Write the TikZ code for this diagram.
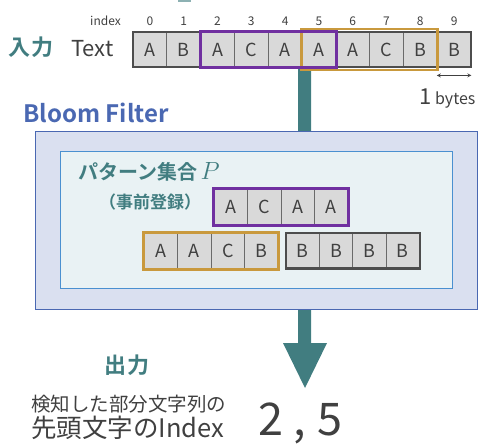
\documentclass[tikz,border=0pt]{standalone}
\usepackage{fontspec}
\setmainfont{Noto Sans CJK JP}
\newfontfamily\jpbold{Noto Sans CJK JP Bold}
\definecolor{tealc}{HTML}{417D80}
\definecolor{purp}{HTML}{7030A0}
\definecolor{gold}{HTML}{C9993D}
\definecolor{bfblue}{HTML}{4A68B2}
\definecolor{bffill}{HTML}{DAE0F0}
\definecolor{inblue}{HTML}{4A90D0}
\definecolor{infill}{HTML}{E9F2F4}
\definecolor{cellg}{HTML}{D9D9D9}
\definecolor{celll}{HTML}{6A6A6A}
\definecolor{dgray}{HTML}{4D4D4D}
\definecolor{txt}{HTML}{404040}
\begin{document}
\begin{tikzpicture}[x=1pt,y=-1pt,
  cellbox/.style={draw=celll,fill=cellg,line width=0.8pt,inner sep=0pt,
    minimum height=35pt,text=txt,font=\fontsize{18}{18}\selectfont},
  idx/.style={text=txt,font=\fontsize{12}{12}\selectfont,inner sep=0pt},
  tealtext/.style={text=tealc,font=\jpbold\fontsize{22}{22}\selectfont,inner sep=0pt}]
\useasboundingbox (0,0) rectangle (481,445);
% small clipped fragment at top
\fill[tealc!60] (178,0) rectangle (191,2);
% main arrow (behind everything)
\coordinate (astart) at (304.5,66);
\coordinate (atip) at (305,388);
\fill[tealc] (astart) ++(-6.5,0) -- ++(13,0) |- (327,343) -- (atip) -- (283,343) -| (298,66) -- cycle;
% Bloom filter box
\node[anchor=west,text=bfblue,font=\jpbold\fontsize{24}{24}\selectfont,inner sep=0pt] (bflabel) at (23,113) {Bloom Filter};
\node[draw=bfblue,fill=bffill,line width=1.3pt,minimum width=442pt,minimum height=178pt,anchor=north west,inner sep=0pt] (bf) at (35,131) {};
\node[draw=inblue,fill=infill,line width=0.8pt,minimum width=392pt,minimum height=137pt,anchor=north west,inner sep=0pt] (inner) at (60,151) {};
\node[anchor=west,inner sep=0pt] (pset) at (78,172) {\jpbold\color{tealc}\fontsize{20}{20}\selectfont パターン集合\,\fontsize{25}{25}\selectfont$P$};
\node[anchor=west,tealtext,font=\jpbold\fontsize{17}{17}\selectfont] (pre) at (99,202) {（事前登録）};
% Text row
\node[tealtext,anchor=west] (in) at (8,47) {入\kern1pt 力};
\node[anchor=west,text=txt,font=\fontsize{22}{22}\selectfont,inner sep=0pt] (textlbl) at (71,49) {Text};
\node[idx,anchor=east] (index) at (121,21) {index};
\foreach \c [count=\i from 0] in {A,B,A,C,A,A,A,C,B,B}{
  \node[cellbox,minimum width=33.8pt] (t\i) at ({133+33.8*(\i+0.5)},49.5) {\c};
  \node[idx] (n\i) at ({133+33.8*(\i+0.5)},21) {\i};
}
\draw[dgray,line width=2pt] (t0.north west) rectangle (t9.south east);
\draw[gold,line width=2.6pt] ([shift={(0,-2.5)}]t5.north west) rectangle ([shift={(0,2.5)}]t8.south east);
\draw[purp,line width=2.6pt] (t2.north west) rectangle (t5.south east);
% 1 bytes
\coordinate (bl) at ([yshift=-8pt]t9.south west);
\coordinate (br) at ([yshift=-8pt]t9.south east);
\draw[<->,>=stealth,txt,line width=0.8pt] (bl) -- (br);
\node[anchor=base west,inner sep=0pt,text=txt] (bytes) at (419,104) {\fontsize{22}{22}\selectfont 1\,\fontsize{16}{16}\selectfont bytes};
% patterns
\foreach \c [count=\i from 0] in {A,C,A,A}{
  \node[cellbox,minimum width=33.5pt,minimum height=36pt] (p\i) at ({214+33.5*(\i+0.5)},207) {\c};
}
\draw[purp,line width=2.6pt] (p0.north west) rectangle (p3.south east);
\foreach \c [count=\i from 0] in {A,A,C,B}{
  \node[cellbox,minimum width=33.5pt,minimum height=36pt] (q\i) at ({144+33.5*(\i+0.5)},251) {\c};
}
\draw[gold,line width=2.6pt] (q0.north west) rectangle (q3.south east);
\foreach \c [count=\i from 0] in {B,B,B,B}{
  \node[cellbox,minimum width=33.3pt,minimum height=35pt] (r\i) at ({286+33.3*(\i+0.5)},250.5) {\c};
}
\draw[dgray,line width=2.2pt] (r0.north west) rectangle (r3.south east);
% output
\node[tealtext] (out) at (127,365) {出\kern1pt 力};
\node[anchor=west,text=txt,font=\fontsize{19.5}{19.5}\selectfont,inner sep=0pt] (det) at (31,404) {検知した部分文字列の};
\node[anchor=west,text=txt,font=\fontsize{25.5}{25.5}\selectfont,inner sep=0pt] (head) at (31,428) {先頭文字のIndex};
\node[anchor=west,text=txt,font=\fontsize{45}{45}\selectfont,inner sep=0pt] (res) at (258,423) {2\hspace{10pt},\hspace{12pt}5};
\end{tikzpicture}
\end{document}
